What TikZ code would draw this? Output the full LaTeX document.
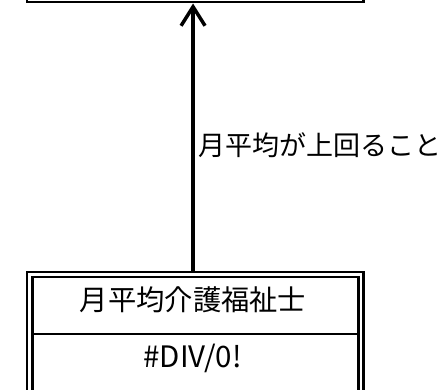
\documentclass[tikz,border=0pt]{standalone}
\usepackage{fontspec}
\setmainfont{Noto Sans CJK JP}
\usetikzlibrary{arrows.meta,calc}
\tikzset{
  dblbox/.style={draw=black, line width=2.5pt, double=white, double distance=2.8pt,
    rectangle, inner sep=0pt, outer sep=3.9pt, minimum width=331.3pt},
  jtext/.style={font=\fontsize{28.3}{32}\selectfont, inner sep=0pt},
  lbltext/.style={font=\fontsize{27}{31}\selectfont, inner sep=0pt},
  valtext/.style={font=\fontsize{29.5}{33}\selectfont, inner sep=0pt},
  uparrow/.style={line width=3.5pt, -{Straight Barb[length=19pt,width=24pt,line width=3.5pt]}},
}
\begin{document}
\begin{tikzpicture}[x=1pt,y=-1pt]
\useasboundingbox (0,0) rectangle (447,390);
\clip (0,0) rectangle (447,390);
\node[dblbox, anchor=south west, minimum height=120pt] (top) at (25.7,3.5) {};
\node[dblbox, anchor=north west, minimum height=119pt] (bot) at (25.7,270.5) {};
\draw[line width=2.3pt] ($(bot.west)+(6pt,0)$ |- 0,330) coordinate (dl) -- ($(bot.east)+(-6pt,0)$ |- 0,330) coordinate (dr);
\node[jtext] (name) at (193,299.5) {月平均介護福祉士};
\node[valtext] (val) at (192.5,358) {\#DIV/0!};
\draw[uparrow] ([xshift=-2.2pt]bot.north) -- ([xshift=-2.2pt]top.south);
\node[lbltext, anchor=west] (lbl) at (198,145) {月平均が上回ること};
\end{tikzpicture}
\end{document}
